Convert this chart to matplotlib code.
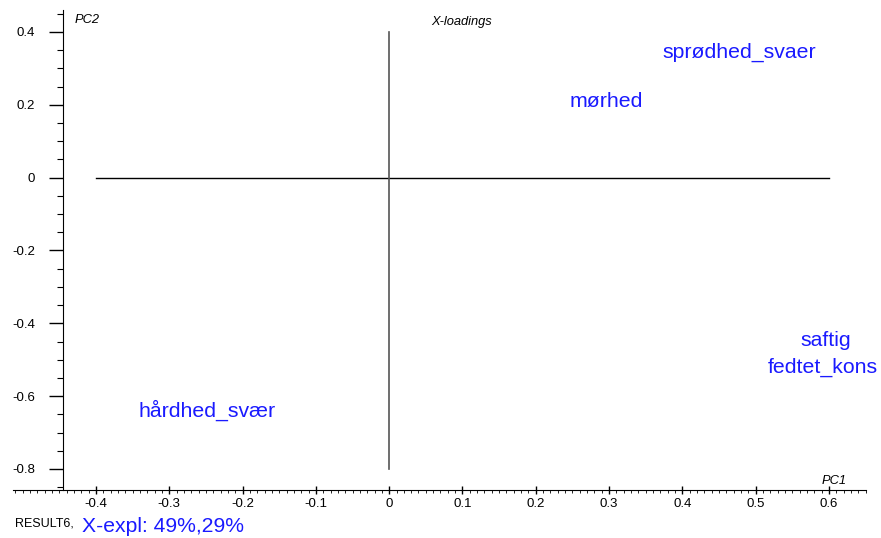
import numpy as np
import matplotlib
matplotlib.use("Agg")
import matplotlib.pyplot as plt
from matplotlib.ticker import MultipleLocator, FuncFormatter

plt.rcParams['font.family'] = ['Liberation Sans', 'DejaVu Sans']

# loadings
names = ["sprødhed_svaer", "mørhed", "saftig", "fedtet_kons", "hårdhed_svær"]
pc1 = [0.478, 0.296, 0.596, 0.592, -0.249]
pc2 = [0.345, 0.208, -0.446, -0.520, -0.638]

xticks = [-0.4, -0.3, -0.2, -0.1, 0, 0.1, 0.2, 0.3, 0.4, 0.5, 0.6]
yticks = [0.4, 0.2, 0, -0.2, -0.4, -0.6, -0.8]

W, H = 881, 538
fig = plt.figure(figsize=(W / 100, H / 100), dpi=100)
ax = fig.add_axes([13 / W, 48 / H, 853 / W, 480 / H])

ax.set_xlim(-0.5132, 0.6505)
ax.set_ylim(-0.8577, 0.4604)

# cross through origin
ax.plot([-0.4, 0.6], [0, 0], color='black', lw=1)
ax.plot([0, 0], [-0.8, 0.4], color='#555555', lw=1.2)

for n, x, y in zip(names, pc1, pc2):
    ax.text(x, y, n, color='#1a1aff', fontsize=15.3, ha='center', va='center')

ax.spines['top'].set_visible(False)
ax.spines['right'].set_visible(False)
ax.spines['left'].set_position(('data', -0.445))

ax.set_xticks(xticks)
ax.set_yticks(yticks)
ax.xaxis.set_minor_locator(MultipleLocator(0.01))
ax.yaxis.set_minor_locator(MultipleLocator(0.05))
fmt = FuncFormatter(lambda v, p: '%g' % round(v, 2) if abs(v) > 1e-9 else '0')
ax.xaxis.set_major_formatter(fmt)
ax.yaxis.set_major_formatter(fmt)

ax.tick_params(axis='y', which='major', length=10, width=1, pad=10, labelsize=9.5)
ax.tick_params(axis='y', which='minor', length=4.3, width=0.8)
ax.tick_params(axis='x', which='major', direction='inout', length=6, width=1, pad=3, labelsize=9.5)
ax.tick_params(axis='x', which='minor', length=2, width=0.6)

fig.text(75 / W, 1 - 20 / H, "PC2", fontsize=9.3, style='italic', va='center')
fig.text(462 / W, 1 - 22 / H, "X-loadings", fontsize=9.3, style='italic', va='center', ha='center')
fig.text(822 / W, 1 - 481 / H, "PC1", fontsize=9.3, style='italic', va='center')
fig.text(15 / W, 1 - 524 / H, "RESULT6,", fontsize=9, va='center')
fig.text(82 / W, 1 - 527 / H, "X-expl: 49%,29%", fontsize=15.2, color='#1a1aff', va='center')

fig.savefig("out.png", dpi=100)
